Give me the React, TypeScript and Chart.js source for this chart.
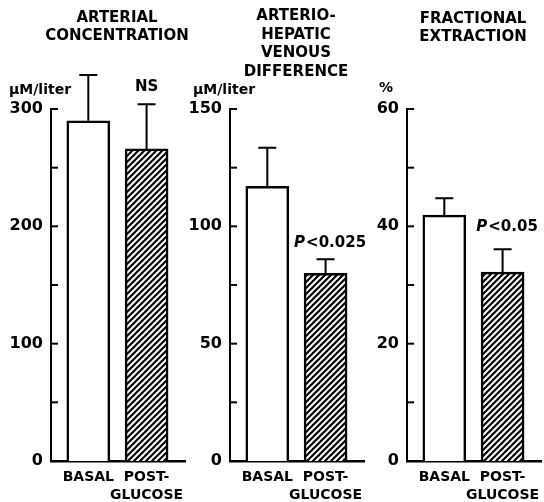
import React, { useEffect, useRef } from 'react';
import { Chart, registerables } from 'chart.js';

Chart.register(...registerables);

// ---- data ----
const categories: (string | string[])[] = ['BASAL', ['POST-', 'GLUCOSE']];

const arterialMeans = [290, 266];
const arterialErrors = [39, 38];
const arterialTickLabels = [0, 100, 200, 300];

const avDiffMeans = [117, 80];
const avDiffErrors = [16.5, 6];
const avDiffTickLabels = [0, 50, 100, 150];

const extractionMeans = [41.9, 32.2];
const extractionErrors = [2.9, 3.9];
const extractionTickLabels = [0, 20, 40, 60];

const arterialTitle = ['ARTERIAL', 'CONCENTRATION'];
const avDiffTitle = ['ARTERIO-', 'HEPATIC', 'VENOUS', 'DIFFERENCE'];
const extractionTitle = ['FRACTIONAL', 'EXTRACTION'];

const FONT = '"DejaVu Sans", sans-serif';

type Panel = {
  title: string[];
  titleY: number;
  unit: string;
  unitDx: number;
  unitY: number;
  means: number[];
  errors: number[];
  tickLabels: number[];
  note: string;
  noteItalicP: boolean;
  noteGap: number;
  axisX: number;
};

const panels: Panel[] = [
  { title: arterialTitle, titleY: 18, unit: 'μM/liter', unitDx: -42, unitY: 90, means: arterialMeans, errors: arterialErrors, tickLabels: arterialTickLabels, note: 'NS', noteItalicP: false, noteGap: 17, axisX: 51 },
  { title: avDiffTitle, titleY: 16.5, unit: 'μM/liter', unitDx: -37, unitY: 90, means: avDiffMeans, errors: avDiffErrors, tickLabels: avDiffTickLabels, note: '<0.025', noteItalicP: true, noteGap: 16, axisX: 230 },
  { title: extractionTitle, titleY: 19, unit: '%', unitDx: -28, unitY: 88, means: extractionMeans, errors: extractionErrors, tickLabels: extractionTickLabels, note: '<0.05', noteItalicP: true, noteGap: 22, axisX: 407 },
];

const CANVAS_W = 190;
const CANVAS_H = 502;
const Y_AXIS_W = 50;
const X_AXIS_H = 41;
const PLOT_TOP = 109;
const PLOT_W = 137;

function makeHatch(): CanvasPattern | string {
  const c = document.createElement('canvas');
  const s = 6;
  c.width = s;
  c.height = s;
  const g = c.getContext('2d');
  if (!g) return '#000';
  g.fillStyle = '#fff';
  g.fillRect(0, 0, s, s);
  g.strokeStyle = '#000';
  g.lineWidth = 2.2;
  g.beginPath();
  g.moveTo(-1, s + 1);
  g.lineTo(s + 1, -1);
  g.moveTo(-1, 1);
  g.lineTo(1, -1);
  g.moveTo(s - 1, s + 1);
  g.lineTo(s + 1, s - 1);
  g.stroke();
  return g.createPattern(c, 'repeat') || '#000';
}

function PanelChart({ panel }: { panel: Panel }) {
  const ref = useRef<HTMLCanvasElement | null>(null);
  useEffect(() => {
    if (!ref.current) return;
    const yMax = panel.tickLabels[panel.tickLabels.length - 1];
    const step = (panel.tickLabels[1] - panel.tickLabels[0]) / 2;
    const hatch = makeHatch();

    const panelPlugin = {
      id: 'panelDecor',
      afterDatasetsDraw(chart: any) {
        const ctx = chart.ctx as CanvasRenderingContext2D;
        const y = chart.scales.y;
        const meta = chart.getDatasetMeta(0);
        ctx.save();
        ctx.strokeStyle = '#000';
        ctx.lineWidth = 2;
        meta.data.forEach((bar: any, i: number) => {
          const top = y.getPixelForValue(panel.means[i] + panel.errors[i]);
          ctx.beginPath();
          ctx.moveTo(bar.x, bar.y);
          ctx.lineTo(bar.x, top);
          ctx.moveTo(bar.x - 9, top);
          ctx.lineTo(bar.x + 9, top);
          ctx.stroke();
        });
        ctx.restore();
      },
      afterDraw(chart: any) {
        const ctx = chart.ctx as CanvasRenderingContext2D;
        const area = chart.chartArea;
        const y = chart.scales.y;
        const meta = chart.getDatasetMeta(0);
        ctx.save();
        // inward y ticks
        ctx.strokeStyle = '#000';
        ctx.lineWidth = 2;
        y.ticks.forEach((t: any) => {
          if (t.value === 0) return;
          const py = y.getPixelForValue(t.value);
          ctx.beginPath();
          ctx.moveTo(area.left, py);
          ctx.lineTo(area.left + 7, py);
          ctx.stroke();
        });
        ctx.fillStyle = '#000';
        ctx.textBaseline = 'middle';
        // title
        ctx.font = `bold 15px ${FONT}`;
        ctx.textAlign = 'center';
        const cx = (area.left + area.right) / 2 - 1;
        panel.title.forEach((line, i) => {
          ctx.fillText(line, cx, panel.titleY + i * 18.5);
        });
        // unit
        ctx.font = `bold 14px ${FONT}`;
        ctx.textAlign = 'left';
        ctx.fillText(panel.unit, area.left + panel.unitDx, panel.unitY);
        // note over second bar
        const bar = meta.data[1];
        const noteY = y.getPixelForValue(panel.means[1] + panel.errors[1]) - panel.noteGap;
        ctx.font = `bold 15px ${FONT}`;
        if (panel.noteItalicP) {
          const italic = `italic bold 15px ${FONT}`;
          ctx.font = italic;
          const pw = ctx.measureText('P').width;
          ctx.font = `bold 15px ${FONT}`;
          const rw = ctx.measureText(panel.note).width;
          const start = bar.x + 4 - (pw + rw) / 2;
          ctx.textAlign = 'left';
          ctx.font = italic;
          ctx.fillText('P', start, noteY);
          ctx.font = `bold 15px ${FONT}`;
          ctx.fillText(panel.note, start + pw + 1, noteY);
        } else {
          ctx.textAlign = 'center';
          ctx.fillText(panel.note, bar.x, noteY);
        }
        ctx.restore();
      },
    };

    const chart = new Chart(ref.current, {
      type: 'bar',
      data: {
        datasets: [
          {
            data: panel.means.map((v, i) => ({ x: i, y: v })),
            backgroundColor: ['#ffffff', hatch as any],
            borderColor: '#000',
            borderWidth: 2.5,
            borderSkipped: 'bottom',
            barThickness: 43,
          },
        ],
      },
      options: {
        responsive: false,
        animation: false,
        events: [],
        layout: { padding: { top: PLOT_TOP, left: 0, right: CANVAS_W - Y_AXIS_W - PLOT_W, bottom: 0 } },
        plugins: { legend: { display: false }, tooltip: { enabled: false }, title: { display: false } },
        scales: {
          x: {
            type: 'linear',
            offset: false,
            min: -0.64,
            max: 1.66,
            afterBuildTicks: (s: any) => {
              s.ticks = categories.map((_, i) => ({ value: i }));
            },
            afterFit: (s: any) => {
              s.height = X_AXIS_H;
            },
            ticks: {
              callback: (v: any) => categories[v as number] as any,
              color: '#000',
              font: { family: FONT, weight: 'bold', size: 14, lineHeight: 1.3 },
              padding: 7,
              maxRotation: 0,
              autoSkip: false,
            },
            grid: { display: false, drawTicks: false },
            border: { display: true, color: '#000', width: 2.5 },
          },
          y: {
            type: 'linear',
            min: 0,
            max: yMax,
            afterBuildTicks: (s: any) => {
              const t = [];
              for (let v = 0; v <= yMax + 1e-9; v += step) t.push({ value: v });
              s.ticks = t;
            },
            afterFit: (s: any) => {
              s.width = Y_AXIS_W;
            },
            ticks: {
              callback: (v: any) => (panel.tickLabels.includes(v as number) ? String(v) : ''),
              color: '#000',
              font: { family: FONT, weight: 'bold', size: 16 },
              padding: 8,
              autoSkip: false,
            },
            grid: { display: false, drawTicks: false },
            border: { display: true, color: '#000', width: 2 },
          },
        },
      },
      plugins: [panelPlugin],
    } as any);
    return () => chart.destroy();
  }, [panel]);

  return (
    <canvas
      ref={ref}
      width={CANVAS_W}
      height={CANVAS_H}
      style={{ position: 'absolute', left: panel.axisX - Y_AXIS_W, top: 0, width: CANVAS_W, height: CANVAS_H }}
    />
  );
}

export default function App() {
  return (
    <div
      style={{
        position: 'fixed',
        left: 0,
        top: 0,
        width: 544,
        height: 502,
        overflow: 'hidden',
        background: '#fff',
      }}
    >
      {panels.map((p, i) => (
        <PanelChart key={i} panel={p} />
      ))}
    </div>
  );
}
